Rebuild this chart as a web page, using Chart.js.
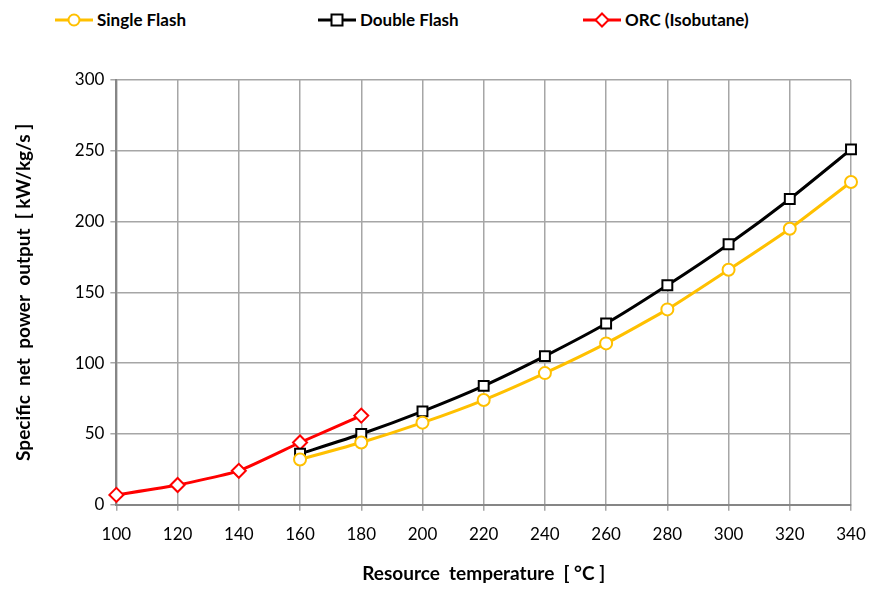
<!DOCTYPE html>
<html>
<head>
<meta charset="utf-8">
<script src="https://cdn.jsdelivr.net/npm/chart.js@4.4.1/dist/chart.umd.min.js"></script>
<style>
  html, body { margin: 0; padding: 0; background: #fff; }
  #legend { width: 873px; height: 40px; position: relative; font: bold 17px Lato, "Open Sans", sans-serif; color: #000; }
  .item { position: absolute; top: 9px; display: flex; align-items: center; gap: 4px; white-space: nowrap; }
  #wrap { width: 873px; height: 549px; position: relative; }
</style>
</head>
<body>
<div id="legend"></div>
<div id="wrap"><canvas id="chart"></canvas></div>
<script>
// resource temperatures (°C)
const temps = [100, 120, 140, 160, 180, 200, 220, 240, 260, 280, 300, 320, 340];
// specific net power output (kW/kg/s)
const singleFlash = [null, null, null, 32, 44, 58, 74, 93, 114, 138, 166, 195, 228];
const doubleFlash = [null, null, null, 36, 50, 66, 84, 105, 128, 155, 184, 216, 251];
const orcIsobutane = [7, 14, 24, 44, 63, null, null, null, null, null, null, null, null];
const yTicks = [0, 50, 100, 150, 200, 250, 300];

const FONT = 'Lato, "Open Sans", sans-serif';

// legend icon: short line with the marker in the middle
function legendIcon(color, shape) {
    const c = document.createElement('canvas');
    c.width = 38; c.height = 16;
    const g = c.getContext('2d');
    g.strokeStyle = color;
    g.lineWidth = 3;
    g.beginPath(); g.moveTo(0, 8); g.lineTo(38, 8); g.stroke();
    g.fillStyle = '#fff';
    g.lineWidth = 2;
    g.beginPath();
    if (shape === 'circle') {
        g.arc(19, 8, 5.5, 0, Math.PI * 2);
    } else if (shape === 'rect') {
        g.rect(13.5, 2.5, 11, 11);
    } else {
        g.moveTo(19, 1.5); g.lineTo(25.5, 8); g.lineTo(19, 14.5); g.lineTo(12.5, 8); g.closePath();
    }
    g.fill(); g.stroke();
    return c;
}

const series = [
    { label: 'Single Flash', data: singleFlash, color: '#FFC000', shape: 'circle', radius: 6, left: 55 },
    { label: 'Double Flash', data: doubleFlash, color: '#000000', shape: 'rect', radius: 7, left: 318 },
    { label: 'ORC (Isobutane)', data: orcIsobutane, color: '#FF0000', shape: 'rectRot', radius: 7, left: 583 }
];

// html legend above the chart
const legendEl = document.getElementById('legend');
series.forEach(s => {
    const item = document.createElement('div');
    item.className = 'item';
    item.style.left = s.left + 'px';
    item.appendChild(legendIcon(s.color, s.shape));
    const span = document.createElement('span');
    span.textContent = s.label;
    item.appendChild(span);
    legendEl.appendChild(item);
});

const ctx = document.getElementById('chart').getContext('2d');
new Chart(ctx, {
    type: 'line',
    data: {
        labels: temps,
        datasets: series.map(s => ({
            label: s.label,
            data: s.data,
            borderColor: s.color,
            backgroundColor: '#ffffff',
            borderWidth: 3,
            pointStyle: s.shape,
            pointRadius: s.radius,
            pointBorderWidth: 2,
            pointBackgroundColor: '#ffffff',
            pointBorderColor: s.color,
            tension: 0.15,
            spanGaps: false
        }))
    },
    options: {
        responsive: true,
        maintainAspectRatio: false,
        animation: false,
        layout: { padding: { left: 8, right: 0, top: 40, bottom: 0 } },
        plugins: {
            legend: { display: false },
            tooltip: { enabled: false }
        },
        scales: {
            x: {
                offset: false,
                afterFit: (axis) => { axis.paddingRight = 22; },
                grid: { color: '#A6A6A6', lineWidth: 1.5, drawTicks: true, tickLength: 6 },
                border: { color: '#868686', width: 2 },
                ticks: { color: '#000', font: { family: FONT, size: 17 }, maxRotation: 0, autoSkip: false, padding: 14 },
                title: {
                    display: true,
                    text: 'Resource  temperature  [ °C ]',
                    color: '#000',
                    font: { family: FONT, size: 19, weight: 'bold' },
                    padding: { top: 3 }
                }
            },
            y: {
                min: 0,
                max: 300,
                afterBuildTicks: (axis) => { axis.ticks = yTicks.map(v => ({ value: v })); },
                grid: { color: '#A6A6A6', lineWidth: 1.5, tickLength: 6 },
                border: { color: '#868686', width: 2 },
                ticks: { color: '#000', font: { family: FONT, size: 17 }, padding: 6 },
                title: {
                    display: true,
                    text: 'Specific  net  power  output  [ kW/kg/s ]',
                    color: '#000',
                    font: { family: FONT, size: 19, weight: 'bold' },
                    padding: { bottom: 34 }
                }
            }
        }
    }
});
</script>
</body>
</html>
